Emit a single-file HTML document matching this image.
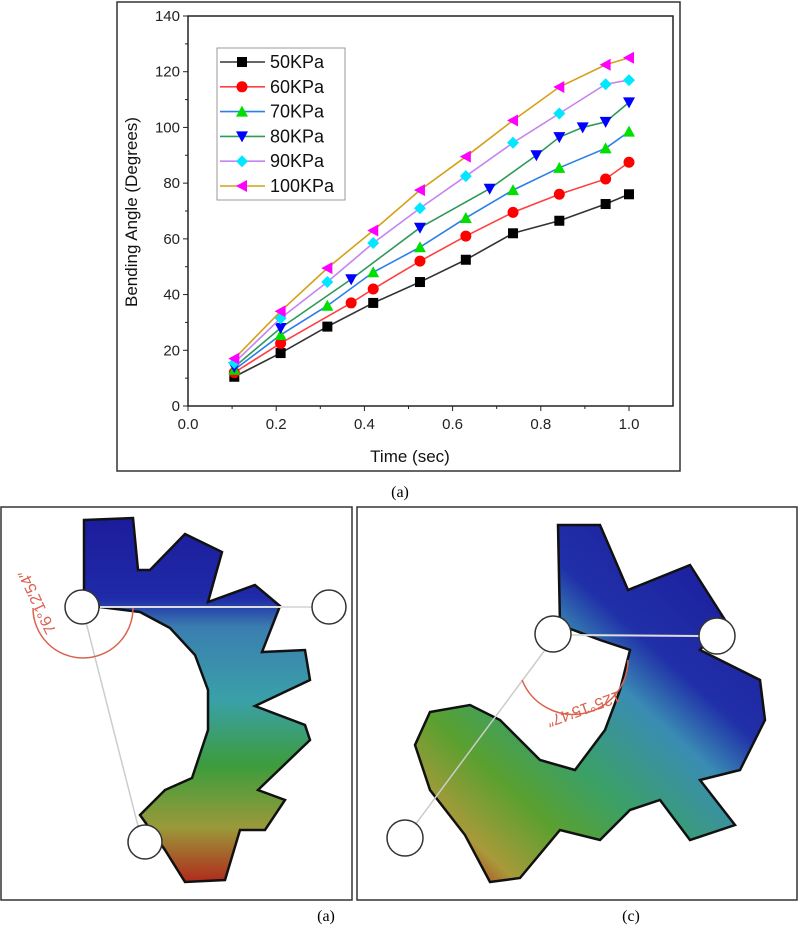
<!DOCTYPE html>
<html><head><meta charset="utf-8"><style>
body{margin:0;background:#fff;width:800px;height:932px;overflow:hidden;font-family:"Liberation Sans",sans-serif}
svg{position:absolute;left:0;top:0}
</style></head><body>
<svg id="root" width="800" height="932" viewBox="0 0 800 932">
<defs>
<linearGradient id="gL" x1="0" y1="0" x2="0" y2="1">
<stop offset="0" stop-color="#1c1c9c"/><stop offset="0.22" stop-color="#1f2aa8"/><stop offset="0.3" stop-color="#3a7eb0"/><stop offset="0.5" stop-color="#3aa0a8"/><stop offset="0.68" stop-color="#3c9c3c"/><stop offset="0.85" stop-color="#9a9a3a"/><stop offset="1" stop-color="#b02a1c"/></linearGradient>
<linearGradient id="gR" x1="0.8" y1="0" x2="0" y2="0.9">
<stop offset="0" stop-color="#1c1c9c"/><stop offset="0.28" stop-color="#2030a8"/><stop offset="0.4" stop-color="#3a8cb4"/><stop offset="0.6" stop-color="#3aa068"/><stop offset="0.75" stop-color="#5aa030"/><stop offset="0.9" stop-color="#a89a3a"/><stop offset="1" stop-color="#b02a1c"/></linearGradient>
</defs>
<rect x="117" y="2" width="563" height="469" fill="none" stroke="#333" stroke-width="1.5"/>
<g id="chart"></g>
<text x="400" y="497" font-family="Liberation Serif" font-size="16" text-anchor="middle">(a)</text>

<g>
<rect x="1" y="507" width="351" height="393" fill="#fff" stroke="#333" stroke-width="1.5"/>
<polygon fill="url(#gL)" stroke="#111" stroke-width="2.5" points="84,520 133,518 138,570 150,570 185,534 222,552 208,602 255,585 280,606 262,652 305,650 310,680 255,706 305,725 310,740 258,790 285,800 265,830 240,830 225,880 185,882 165,850 140,815 165,790 192,778 208,730 208,690 195,655 170,628 140,612 84,605"/>
<line x1="100" y1="607" x2="312" y2="607" stroke="#ddd" stroke-width="2"/>
<line x1="86" y1="622" x2="138" y2="826" stroke="#ccc" stroke-width="1.5"/>
<path d="M33,608 A45,45 0 0 0 133,608" fill="none" stroke="#d9634f" stroke-width="1.5"/>
<circle cx="82" cy="607" r="17" fill="#fff" stroke="#333" stroke-width="1.5"/>
<circle cx="329" cy="607" r="17" fill="#fff" stroke="#333" stroke-width="1.5"/>
<circle cx="145" cy="842" r="17" fill="#fff" stroke="#333" stroke-width="1.5"/>
<text x="0" y="0" transform="translate(42,600) rotate(65) scale(-1,-1)" font-size="16" fill="#d9634f" text-anchor="middle">76°12′54″</text>
<text x="326" y="921" font-family="Liberation Serif" font-size="16" text-anchor="middle">(a)</text>
</g>

<g>
<rect x="357" y="507" width="440" height="393" fill="#fff" stroke="#333" stroke-width="1.5"/>
<polygon fill="url(#gR)" stroke="#111" stroke-width="2.5" points="558,525 600,525 628,590 690,565 725,620 700,650 760,680 765,720 740,770 700,780 735,825 690,840 660,800 630,810 600,840 560,830 520,878 490,882 465,835 430,790 415,745 430,712 470,705 500,720 540,760 575,770 605,730 620,690 630,650 600,640 560,625"/>
<line x1="570" y1="635" x2="700" y2="636" stroke="#ddd" stroke-width="2"/>
<line x1="545" y1="650" x2="415" y2="825" stroke="#ccc" stroke-width="1.5"/>
<path d="M522,680 A55,55 0 0 0 628,660" fill="none" stroke="#d9634f" stroke-width="1.5"/>
<circle cx="553" cy="634" r="18" fill="#fff" stroke="#333" stroke-width="1.5"/>
<circle cx="717" cy="636" r="18" fill="#fff" stroke="#333" stroke-width="1.5"/>
<circle cx="405" cy="838" r="18" fill="#fff" stroke="#333" stroke-width="1.5"/>
<text x="0" y="0" transform="translate(582,704) rotate(-20) scale(-1,-1)" font-size="16" fill="#d9634f" text-anchor="middle">125°15′47″</text>
<text x="631" y="921" font-family="Liberation Serif" font-size="16" text-anchor="middle">(c)</text>
</g>
</svg>
<script>
const seriesNames=["50KPa","60KPa","70KPa","80KPa","90KPa","100KPa"];
const x50=[0.105,0.21,0.316,0.42,0.526,0.63,0.737,0.842,0.947,1.0];
const y50=[10.5,19,28.5,37,44.5,52.5,62,66.5,72.5,76];
const x60=[0.105,0.21,0.37,0.42,0.526,0.63,0.737,0.842,0.947,1.0];
const y60=[12,22.5,37,42,52,61,69.5,76,81.5,87.5];
const x70=[0.105,0.21,0.316,0.42,0.526,0.63,0.737,0.842,0.947,1.0];
const y70=[13,25.5,36,48,57,67.5,77.5,85.5,92.5,98.5];
const x80=[0.105,0.21,0.37,0.526,0.684,0.79,0.842,0.895,0.947,1.0];
const y80=[14,28,45.5,64,78,90,96.5,100,102,109];
const x90=[0.105,0.21,0.316,0.42,0.526,0.63,0.737,0.842,0.947,1.0];
const y90=[15.5,31.5,44.5,58.5,71,82.5,94.5,105,115.5,117];
const x100=[0.105,0.21,0.316,0.42,0.526,0.63,0.737,0.842,0.947,1.0];
const y100=[17,34,49.5,63,77.5,89.5,102.5,114.5,122.5,125];
const xTicks=[0.0,0.2,0.4,0.6,0.8,1.0];
const yTicks=[0,20,40,60,80,100,120,140];

const NS="http://www.w3.org/2000/svg";
const g=document.getElementById('chart');
const L=188,R=673,T=16,B=406;
const sx=v=>L+(v-0)/1.0*(629-L);
const sy=v=>B-(v/140)*(B-T);
function mk(t,a,p){const e=document.createElementNS(NS,t);for(const k in a)e.setAttribute(k,a[k]);(p||g).appendChild(e);return e;}
const lineCols=["#333","#ff4040","#2a7fe6","#2e9a5a","#c584f2","#d4a017"];
const mCols=["#000","#ff0000","#00e000","#0000ff","#00e8ff","#ff00ff"];
const shapes=["square","circle","up","down","diamond","left"];
function marker(x,y,s,c){const r=5;let e;
 if(s==="square")e=mk('rect',{x:x-r,y:y-r,width:2*r,height:2*r,fill:c});
 else if(s==="circle")e=mk('circle',{cx:x,cy:y,r:r+0.5,fill:c});
 else{let p;if(s==="up")p=[[x,y-r-1],[x+r+1,y+r],[x-r-1,y+r]];
 else if(s==="down")p=[[x,y+r+1],[x+r+1,y-r],[x-r-1,y-r]];
 else if(s==="diamond")p=[[x,y-r-1],[x+r+1,y],[x,y+r+1],[x-r-1,y]];
 else p=[[x-r-1,y],[x+r,y-r-1],[x+r,y+r+1]];
 e=mk('polygon',{points:p.map(q=>q.join(',')).join(' '),fill:c});}
 return e;}
const ax=mk('rect',{x:L,y:T,width:R-L,height:B-T,fill:'none',stroke:'#222','stroke-width':1.5});


for(let v=0;v<=140;v+=10){const y=sy(v);mk('line',{x1:L,x2:L-(v%20===0?5:3),y1:y,y2:y,stroke:'#222'});}
yTicks.forEach(v=>{const t=mk('text',{x:L-8,y:sy(v)+5,'font-size':15,'text-anchor':'end',fill:'#222'});t.textContent=v;

});
for(let i=0;i<=11;i++){const v=i*0.1;const x=sx(v);if(x>R)break;mk('line',{x1:x,x2:x,y1:B,y2:B+(i%2===0?5:3),stroke:'#222'});}
xTicks.forEach(v=>{const t=mk('text',{x:sx(v),y:B+23,'font-size':15,'text-anchor':'middle',fill:'#222'});t.textContent=v.toFixed(1);

});
const xt=mk('text',{x:410,y:462,'font-size':17,'text-anchor':'middle',fill:'#111'});xt.textContent="Time (sec)";


const yt=mk('text',{x:0,y:0,transform:'translate(137,212) rotate(-90)','font-size':17,'text-anchor':'middle',fill:'#111'});yt.textContent="Bending Angle (Degrees)";


const XS=[x50,x60,x70,x80,x90,x100],YS=[y50,y60,y70,y80,y90,y100];
XS.forEach((xs,i)=>{
 const pl=mk('polyline',{points:xs.map((x,j)=>sx(x)+','+sy(YS[i][j])).join(' '),fill:'none',stroke:lineCols[i],'stroke-width':1.6});
 
 
 xs.forEach((x,j)=>{const m=marker(sx(x),sy(YS[i][j]),shapes[i],mCols[i]);
 
 });
});
const lg=mk('rect',{x:217,y:48,width:128,height:152,fill:'#fff',stroke:'#999','stroke-width':1});


seriesNames.forEach((n,i)=>{const y=62+i*24.8;
 mk('line',{x1:220,x2:265,y1:y,y2:y,stroke:lineCols[i],'stroke-width':1.6});
 marker(242,y,shapes[i],mCols[i]);
 const t=mk('text',{x:270,y:y+6,'font-size':18,fill:'#111'});t.textContent=n;
 
 });
</script>
</body></html>
